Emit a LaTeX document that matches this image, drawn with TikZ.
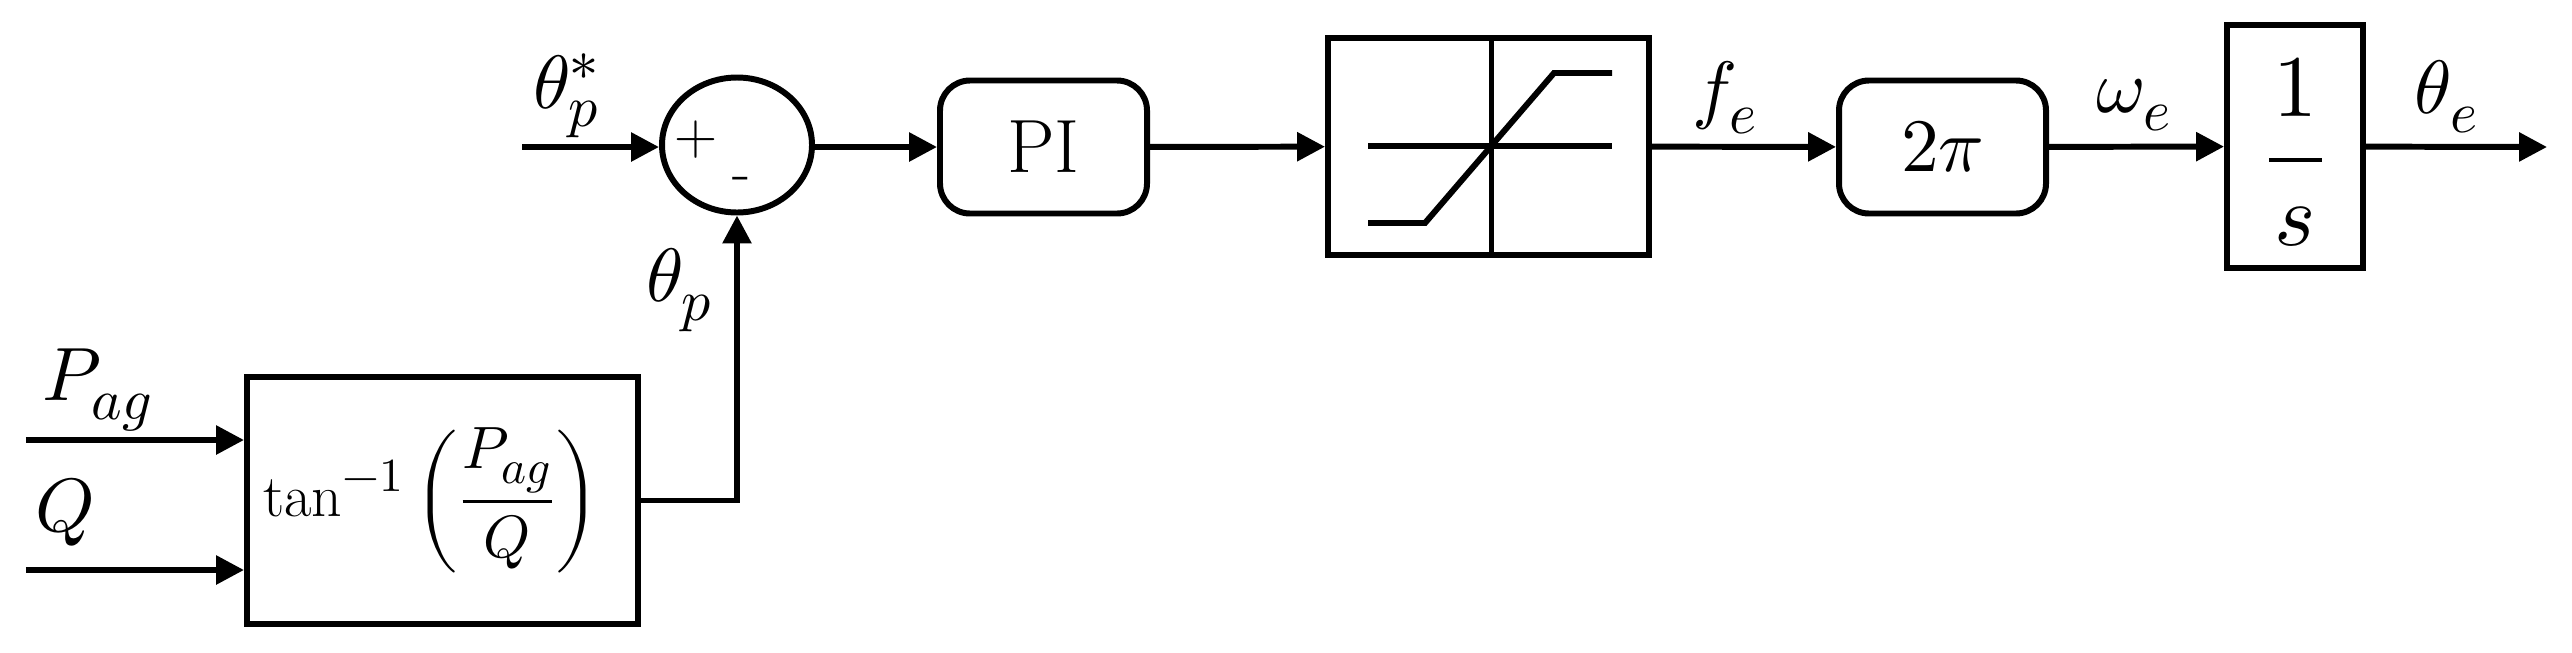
\documentclass[tikz,border=0pt]{standalone}
\usepackage{amsmath}
\usepackage{unicode-math}
\DeclareMathSizes{21.5}{21.5}{16.5}{13}
\DeclareMathSizes{17}{17}{13.5}{11}
\usetikzlibrary{positioning,calc,arrows.meta,shapes.geometric}
\tikzset{font=\fontsize{21.5}{26}\selectfont}
\tikzset{
	blk/.style={draw, rectangle, inner sep=0pt},
	rblk/.style={draw, rectangle, rounded corners=0.3cm, minimum width=2.07cm, minimum height=1.33cm, inner sep=0pt},
	sumnode/.style={draw, ellipse, minimum width=1.5cm, minimum height=1.35cm, inner sep=0pt},
	sgn/.style={inner sep=0pt, font=\fontsize{17}{20}\selectfont},
	big/.style={inner sep=0pt, font=\fontsize{25}{30}\selectfont},
	lbl/.style={inner sep=0pt},
}

\begin{document}
\begin{tikzpicture}[line width=1.7pt, >={Triangle[length=2.8mm,width=2.8mm]}]
	\useasboundingbox (0,0) rectangle (25.72,-6.52);

	% blocks of the main row
	\node[sumnode] (sum) at (7.37,-1.45) {};
	\node[sgn] (plus) at (6.96,-1.40) {+};
	\node[sgn] (minus) at (7.42,-1.84) {-};
	\node[rblk] (pi) at (10.435,-1.47) {PI};
	\node[blk, minimum width=3.21cm, minimum height=2.17cm] (sat) at (14.885,-1.465) {};
	\node[rblk] (gain) at (19.425,-1.47) {$2\pi$};
	\node[blk, minimum width=1.36cm, minimum height=2.43cm] (integ) at (22.95,-1.465) {};
	\node[big] (one) at (22.95,-0.87) {$1$};
	\node[big] (ess) at (22.95,-2.27) {$s$};
	\draw[line width=1.3pt] (22.69,-1.60) -- (23.22,-1.60);

	% limiter curve
	\draw[line width=1.3pt] ($(sat.north)+(0.03,0)$) -- ($(sat.south)+(0.03,0)$);
	\draw (13.68,-1.46) -- (16.12,-1.46);
	\draw (13.68,-2.23) -- (14.25,-2.23) -- (15.54,-0.73) -- (16.12,-0.73);

	% angle block
	\node[blk, text width=3.59cm, inner xsep=0.16cm, minimum height=2.47cm, align=left,
		font=\fontsize{17}{20}\selectfont] (atan) at (4.425,-5.005)
		{$\tan^{-1}\left(\dfrac{P_{ag}}{Q}\right)$};

	% signal labels
	\node[lbl] (lref) at (5.67,-0.96) {$\theta_p^*$};
	\node[lbl] (lp) at (6.80,-2.90) {$\theta_p$};
	\node[lbl] (lfe) at (17.25,-0.98) {$f_e$};
	\node[lbl] (lwe) at (21.34,-1.05) {$\omega_e$};
	\node[lbl] (lte) at (24.47,-0.97) {$\theta_e$};
	\node[lbl] (lpag) at (0.98,-3.90) {$P_{ag}$};
	\node[lbl] (lq) at (0.65,-5.12) {$Q$};

	\coordinate (ref) at (5.22,-1.47);
	\coordinate (pag) at (0.26,-4.40);
	\coordinate (qin) at (0.26,-5.70);
	\coordinate (out) at (25.47,-1.47);

	\draw[->] (ref) -- (ref -| sum.west);
	\draw[->] (sum.east |- pi) -- (pi);
	\draw[->] (pi) -- (sat);
	\draw[->] (sat) -- (gain);
	\draw[->] (gain) -- (integ);
	\draw[->] (integ) -- (out);
	\draw[->] (pag) -- (pag -| atan.west);
	\draw[->] (qin) -- (qin -| atan.west);
	\draw[->] (atan.east) -| (sum.south);
\end{tikzpicture}
\end{document}
